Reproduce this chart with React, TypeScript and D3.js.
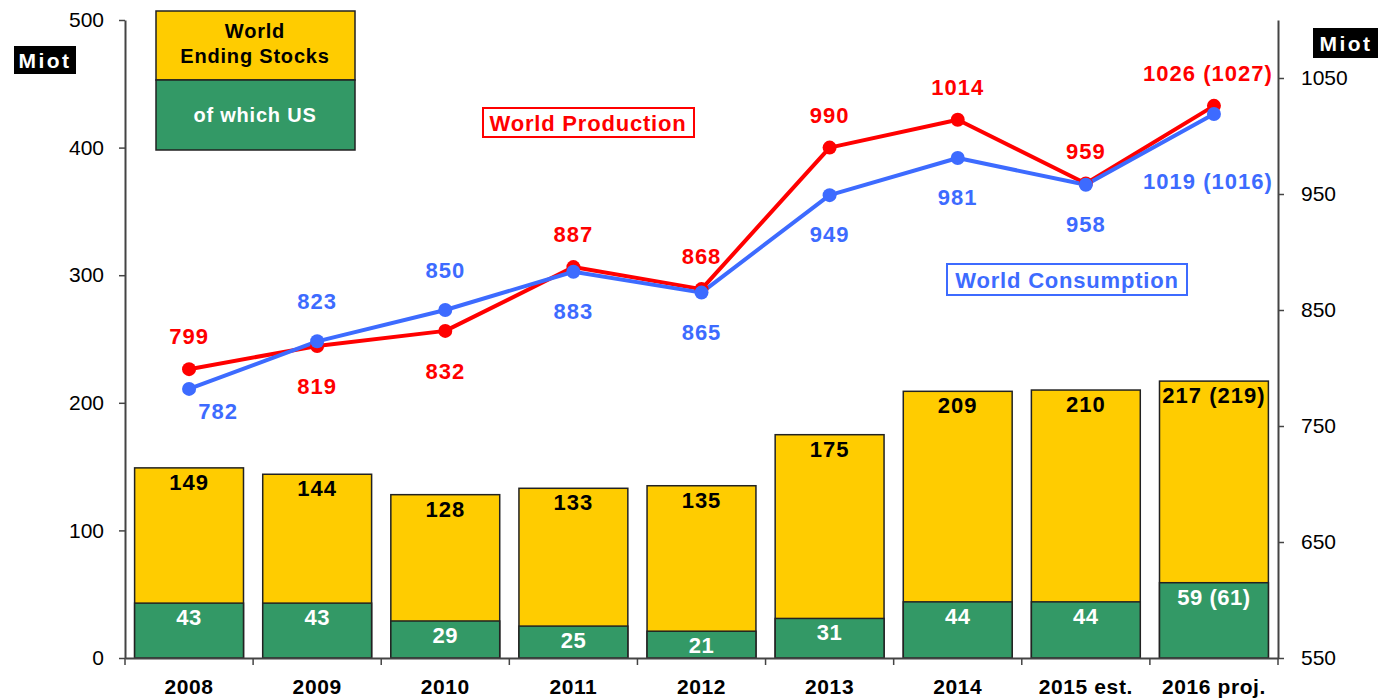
import React, { useEffect, useRef } from "react";
import * as d3 from "d3";

const years = ["2008", "2009", "2010", "2011", "2012", "2013", "2014", "2015 est.", "2016 proj."];
const worldStocks = [149, 144, 128, 133, 135, 175, 209, 210, 217];
const worldStocksText = ["149", "144", "128", "133", "135", "175", "209", "210", "217 (219)"];
const usStocks = [43, 43, 29, 25, 21, 31, 44, 44, 59];
const usStocksText = ["43", "43", "29", "25", "21", "31", "44", "44", "59 (61)"];
const production = [799, 819, 832, 887, 868, 990, 1014, 959, 1026];
const productionText = ["799", "819", "832", "887", "868", "990", "1014", "959", "1026 (1027)"];
const productionSide = ["up", "down", "down", "up", "up", "up", "up", "up", "up"];
const consumption = [782, 823, 850, 883, 865, 949, 981, 958, 1019];
const consumptionText = ["782", "823", "850", "883", "865", "949", "981", "958", "1019 (1016)"];
const consumptionSide = ["downright", "up", "up", "down", "down", "down", "down", "down", "downfar"];
const leftTicks = [0, 100, 200, 300, 400, 500];
const rightTicks = [550, 650, 750, 850, 950, 1050];

const W = 1383;
const H = 700;
const margin = { top: 20, right: 105, bottom: 42, left: 125 };
const FONT = "'Liberation Sans', Arial, sans-serif";
const YELLOW = "#FFCC00";
const GREEN = "#339966";
const RED = "#FF0000";
const BLUE = "#3D6BFF";

export default function App() {
  const leftRef = useRef<SVGGElement>(null);
  const rightRef = useRef<SVGGElement>(null);
  const bottomRef = useRef<SVGGElement>(null);

  const innerW = W - margin.left - margin.right;
  const innerH = H - margin.top - margin.bottom;

  const x = d3.scaleBand().domain(years).range([0, innerW]).paddingInner(0.15).paddingOuter(0.075);
  const yL = d3.scaleLinear().domain([0, 500]).range([innerH, 0]);
  const yR = d3.scaleLinear().domain([550, 1100]).range([innerH, 0]);
  const cx = (d: string) => (x(d) as number) + x.bandwidth() / 2;
  const last = years.length - 1;

  const line = d3.line<number>().x((d, i) => cx(years[i])).y(d => yR(d));

  useEffect(() => {
    const styleAxis = (g: any) => {
      g.select(".domain").attr("stroke", "#444").attr("stroke-width", 2);
      g.selectAll(".tick line").attr("stroke", "#444").attr("stroke-width", 1.5);
      g.selectAll("text").attr("font-family", FONT).attr("fill", "#000");
    };
    d3.select(leftRef.current)
      .call(d3.axisLeft(yL).tickValues(leftTicks).tickSize(6).tickPadding(15).tickSizeOuter(0) as any)
      .call(styleAxis)
      .selectAll("text").attr("font-size", 21);
    d3.select(rightRef.current)
      .call(d3.axisRight(yR).tickValues(rightTicks).tickFormat(d3.format("d")).tickSize(6).tickPadding(17).tickSizeOuter(0) as any)
      .call(styleAxis)
      .selectAll("text").attr("font-size", 21);
    const bottom = d3.select(bottomRef.current)
      .call(d3.axisBottom(x).tickSize(0).tickPadding(21).tickSizeOuter(0) as any)
      .call(styleAxis);
    bottom.selectAll("text").attr("font-size", 21).attr("font-weight", "bold").attr("letter-spacing", 0.6);
    bottom.selectAll(".bound").remove();
    bottom.selectAll(".bound")
      .data(d3.range(years.length + 1))
      .enter().append("line")
      .attr("class", "bound")
      .attr("x1", i => i * x.step()).attr("x2", i => i * x.step())
      .attr("y1", 0).attr("y2", 7)
      .attr("stroke", "#444").attr("stroke-width", 1.5);
  }, []);

  const labelStyle = { fontFamily: FONT, fontWeight: "bold" as const, fontSize: 22, letterSpacing: 1 };

  return (
    <svg width={W} height={H} style={{ position: "absolute", left: 0, top: 0, background: "#fff" }}>
      <g transform={`translate(${margin.left},${margin.top})`}>
        {years.map((yr, i) => (
          <g key={yr}>
            <rect x={x(yr)} y={yL(worldStocks[i])} width={x.bandwidth()} height={innerH - yL(worldStocks[i])}
              fill={YELLOW} stroke="#222" strokeWidth={1.5} />
            <rect x={x(yr)} y={yL(usStocks[i])} width={x.bandwidth()} height={innerH - yL(usStocks[i])}
              fill={GREEN} stroke="#222" strokeWidth={1.5} />
            <text x={cx(yr)} y={yL(worldStocks[i]) + 22} textAnchor="middle" {...labelStyle} fill="#000">
              {worldStocksText[i]}
            </text>
            <text x={cx(yr)} y={yL(usStocks[i]) + 22} textAnchor="middle" {...labelStyle} letterSpacing={0.5} fill="#fff">
              {usStocksText[i]}
            </text>
          </g>
        ))}

        <g ref={leftRef} />
        <g ref={rightRef} transform={`translate(${innerW},0)`} />
        <g ref={bottomRef} transform={`translate(0,${innerH})`} />

        <path d={line(production) || ""} fill="none" stroke={RED} strokeWidth={4} strokeLinejoin="round" />
        <path d={line(consumption) || ""} fill="none" stroke={BLUE} strokeWidth={4} strokeLinejoin="round" />
        {production.map((v, i) => (
          <circle key={"p" + i} cx={cx(years[i])} cy={yR(v)} r={7} fill={RED} />
        ))}
        {consumption.map((v, i) => (
          <circle key={"c" + i} cx={cx(years[i])} cy={yR(v)} r={7} fill={BLUE} />
        ))}
        {production.map((v, i) => (
          <text key={"pt" + i} x={cx(years[i]) + (i === last ? -6 : 0)} y={yR(v) + (productionSide[i] === "up" ? -25 : 48)}
            textAnchor="middle" {...labelStyle} fill={RED}>{productionText[i]}</text>
        ))}
        {consumption.map((v, i) => {
          const s = consumptionSide[i];
          const dy = s === "up" ? -32 : s === "downright" ? 30 : s === "downfar" ? 75 : 47;
          const dx = s === "downright" ? 29 : i === last ? -6 : 0;
          return (
            <text key={"ct" + i} x={cx(years[i]) + dx} y={yR(v) + dy}
              textAnchor="middle" {...labelStyle} fill={BLUE}>{consumptionText[i]}</text>
          );
        })}
      </g>

      {/* unit boxes */}
      <rect x={14} y={46} width={62} height={28} fill="#000" />
      <text x={45} y={68} textAnchor="middle" fontFamily={FONT} fontWeight="bold" fontSize={21} letterSpacing={2.5} fill="#fff">Miot</text>
      <rect x={1313} y={28} width={65} height={30} fill="#000" />
      <text x={1346} y={51} textAnchor="middle" fontFamily={FONT} fontWeight="bold" fontSize={21} letterSpacing={2.5} fill="#fff">Miot</text>

      {/* legend */}
      <rect x={156} y={11} width={199} height={69} fill={YELLOW} stroke="#222" strokeWidth={1.5} />
      <rect x={156} y={80} width={199} height={70} fill={GREEN} stroke="#222" strokeWidth={1.5} />
      <text x={255} y={38} textAnchor="middle" fontFamily={FONT} fontWeight="bold" fontSize={20} letterSpacing={0.8} fill="#000">World</text>
      <text x={255} y={63} textAnchor="middle" fontFamily={FONT} fontWeight="bold" fontSize={20} letterSpacing={0.8} fill="#000">Ending  Stocks</text>
      <text x={255} y={122} textAnchor="middle" fontFamily={FONT} fontWeight="bold" fontSize={20} letterSpacing={0.8} fill="#fff">of which  US</text>

      {/* series labels */}
      <rect x={483} y={108} width={211} height={29} fill="#fff" stroke={RED} strokeWidth={2} />
      <text x={588} y={131} textAnchor="middle" fontFamily={FONT} fontWeight="bold" fontSize={22} letterSpacing={0.8} fill={RED}>World Production</text>
      <rect x={947} y={264} width={240} height={31} fill="#fff" stroke={BLUE} strokeWidth={2} />
      <text x={1067} y={288} textAnchor="middle" fontFamily={FONT} fontWeight="bold" fontSize={22} letterSpacing={0.8} fill={BLUE}>World Consumption</text>
    </svg>
  );
}
